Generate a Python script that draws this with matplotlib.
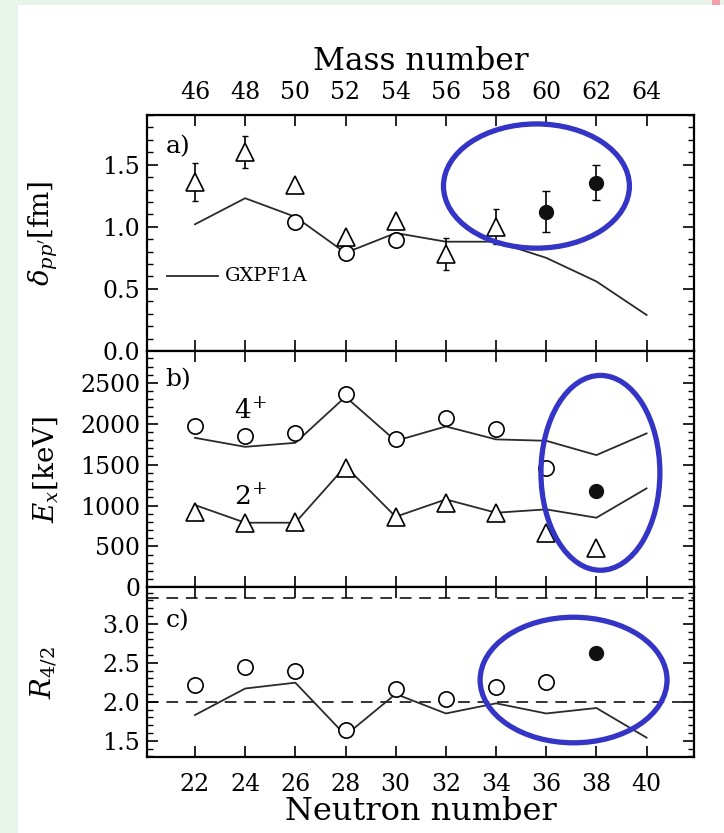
import matplotlib
matplotlib.use("Agg")
import matplotlib.pyplot as plt
from matplotlib.patches import Ellipse, Rectangle
from matplotlib.ticker import MultipleLocator

plt.rcParams['font.family'] = ['DejaVu Serif']
plt.rcParams['mathtext.fontset'] = 'dejavuserif'

# neutron numbers of the shell model curve
n_model = [22, 24, 26, 28, 30, 32, 34, 36, 38, 40]

# a) deformation length
n_tri_a = [22, 24, 26, 28, 30, 32, 34]
delta_tri = [1.36, 1.60, 1.34, 0.92, 1.05, 0.78, 1.00]
delta_tri_err = [0.15, 0.13, 0.0, 0.0, 0.0, 0.13, 0.14]
n_circ_a = [26, 28, 30]
delta_circ = [1.04, 0.79, 0.89]
n_new_a = [36, 38]
delta_new = [1.12, 1.355]
delta_new_err = [0.165, 0.14]
delta_gxpf1a = [1.02, 1.23, 1.08, 0.79, 0.95, 0.88, 0.88, 0.75, 0.56, 0.29]

# b) excitation energies (keV)
n_e4 = [22, 24, 26, 28, 30, 32, 34, 36]
e4_exp = [1971, 1849, 1882, 2358, 1816, 2065, 1934, 1454]
n_e2 = [22, 24, 26, 28, 30, 32, 34, 36, 38]
e2_exp = [916, 782, 794, 1454, 863, 1034, 912, 667, 480]
n_new_b = [38]
e4_new = [1180]
e4_gxpf1a = [1828, 1718, 1767, 2330, 1791, 1967, 1809, 1792, 1617, 1882]
e2_gxpf1a = [1006, 790, 790, 1480, 863, 1075, 912, 953, 851, 1210]

# c) R4/2
n_r42 = [22, 24, 26, 28, 30, 32, 34, 36]
r42_exp = [2.21, 2.45, 2.39, 1.64, 2.17, 2.04, 2.19, 2.25]
n_new_c = [38]
r42_new = [2.62]
r42_gxpf1a = [1.83, 2.17, 2.245, 1.57, 2.10, 1.85, 1.98, 1.85, 1.92, 1.54]

x_ticks = [22, 24, 26, 28, 30, 32, 34, 36, 38, 40]
mass_ticks = [46, 48, 50, 52, 54, 56, 58, 60, 62, 64]

W, H = 724, 833
fig = plt.figure(figsize=(W / 100, H / 100), dpi=100, facecolor='#e8f3ea')
fig.add_artist(Rectangle((18 / W, 0), 1 - 18 / W, 1 - 5 / H, transform=fig.transFigure,
                         facecolor='white', edgecolor='none', zorder=-10))
fig.add_artist(Rectangle((712 / W, 1 - 5 / H), 8 / W, 5 / H, transform=fig.transFigure,
                         facecolor='#f2a0a8', edgecolor='none', zorder=-10))

left = 147.3 / W
width = (694 - 147.3) / W


def fy(px):
    return 1 - px / H


ax_a = fig.add_axes([left, fy(351), width, fy(115) - fy(351)])
ax_b = fig.add_axes([left, fy(587.3), width, fy(351) - fy(587.3)])
ax_c = fig.add_axes([left, fy(757.3), width, fy(587.3) - fy(757.3)])

blue = '#3434c6'
open_c = dict(marker='o', ms=11, mfc='white', mec='black', mew=1.2, ls='none', zorder=4)
open_t = dict(marker='^', ms=12.5, mfc='white', mec='black', mew=1.2, ls='none', zorder=4)
full_c = dict(marker='o', ms=10, mfc='#111111', mec='#111111', ls='none', zorder=4)
line_kw = dict(color='#2a2a2a', lw=1.3, zorder=2)

for ax in (ax_a, ax_b, ax_c):
    ax.set_xlim(20.1, 41.89)
    ax.set_xticks(x_ticks)
    for s in ax.spines.values():
        s.set_linewidth(1.6)
    ax.tick_params(axis='both', which='both', direction='in', right=True,
                   labelsize=17, pad=5, width=1.2)
    ax.tick_params(axis='both', which='major', length=8)
    ax.tick_params(axis='y', which='minor', length=4, width=1.0)
    ax.tick_params(axis='x', top=True, labelbottom=False, pad=11)

# a)
ax_a.set_ylim(0, 1.9)
ax_a.yaxis.set_major_locator(MultipleLocator(0.5))
ax_a.yaxis.set_minor_locator(MultipleLocator(0.1))
ax_a.tick_params(axis='x', top=False)
ax_a.plot(n_model, delta_gxpf1a, **line_kw)
ax_a.errorbar(n_tri_a, delta_tri, yerr=delta_tri_err, fmt='none', ecolor='black',
              elinewidth=1.2, capsize=2, zorder=3)
ax_a.errorbar(n_new_a, delta_new, yerr=delta_new_err, fmt='none', ecolor='black',
              elinewidth=1.2, capsize=3, zorder=3)
ax_a.plot(n_circ_a, delta_circ, **open_c)
ax_a.plot(n_tri_a, delta_tri, **open_t)
ax_a.plot(n_new_a, delta_new, **full_c)
ax_a.plot([20.9, 22.9], [0.606, 0.606], **line_kw)
ax_a.text(23.2, 0.606, 'GXPF1A', fontsize=14, va='center', ha='left')
ax_a.text(0.033, 0.865, 'a)', transform=ax_a.transAxes, fontsize=18, va='center')
ax_a.set_ylabel(r"$\delta_{pp'}$[fm]", fontsize=20)
ax_a.yaxis.set_label_coords(-0.16, 0.5)
ax_a.add_patch(Ellipse((35.61, 1.328), 7.41, 1.0, fill=False, edgecolor=blue,
                       lw=3.8, zorder=10, clip_on=False))

top = ax_a.secondary_xaxis('top', functions=(lambda n: n + 24, lambda a: a - 24))
top.set_xticks(mass_ticks)
top.tick_params(direction='in', length=8, width=1.2, labelsize=17, pad=8)
top.set_xlabel('Mass number', fontsize=22.5, labelpad=8)

# b)
ax_b.set_ylim(0, 2890)
ax_b.yaxis.set_major_locator(MultipleLocator(500))
ax_b.yaxis.set_minor_locator(MultipleLocator(100))
ax_b.plot(n_model, e4_gxpf1a, **line_kw)
ax_b.plot(n_model, e2_gxpf1a, **line_kw)
ax_b.plot(n_e4, e4_exp, **open_c)
ax_b.plot(n_e2, e2_exp, **open_t)
ax_b.plot(n_new_b, e4_new, **full_c)
ax_b.text(23.55, 2160, '4$^{+}$', fontsize=19, ha='left', va='center')
ax_b.text(23.55, 1100, '2$^{+}$', fontsize=19, ha='left', va='center')
ax_b.text(0.033, 0.877, 'b)', transform=ax_b.transAxes, fontsize=18, va='center')
ax_b.set_ylabel(r'$E_x$[keV]', fontsize=20)
ax_b.yaxis.set_label_coords(-0.16, 0.5)
ax_b.add_patch(Ellipse((38.16, 1400), 4.74, 2383, fill=False, edgecolor=blue,
                       lw=3.8, zorder=10, clip_on=False))

# c)
ax_c.set_ylim(1.288, 3.468)
ax_c.yaxis.set_major_locator(MultipleLocator(0.5))
ax_c.yaxis.set_minor_locator(MultipleLocator(0.1))
ax_c.tick_params(axis='x', labelbottom=True)
ax_c.axhline(2.0, color='#333333', lw=1.4, ls=(0, (6, 4)), zorder=1)
ax_c.axhline(10 / 3, color='#333333', lw=1.4, ls=(0, (6, 4)), zorder=1)
ax_c.plot(n_model, r42_gxpf1a, **line_kw)
ax_c.plot(n_r42, r42_exp, **open_c)
ax_c.plot(n_new_c, r42_new, **full_c)
ax_c.text(0.033, 0.805, 'c)', transform=ax_c.transAxes, fontsize=18, va='center')
ax_c.set_ylabel(r'$R_{4/2}$', fontsize=20)
ax_c.yaxis.set_label_coords(-0.16, 0.5)
ax_c.set_xlabel('Neutron number', fontsize=23, labelpad=0)
ax_c.add_patch(Ellipse((37.09, 2.279), 7.45, 1.61, fill=False, edgecolor=blue,
                       lw=3.8, zorder=10, clip_on=False))

fig.savefig('out.png', dpi=100, facecolor=fig.get_facecolor())
